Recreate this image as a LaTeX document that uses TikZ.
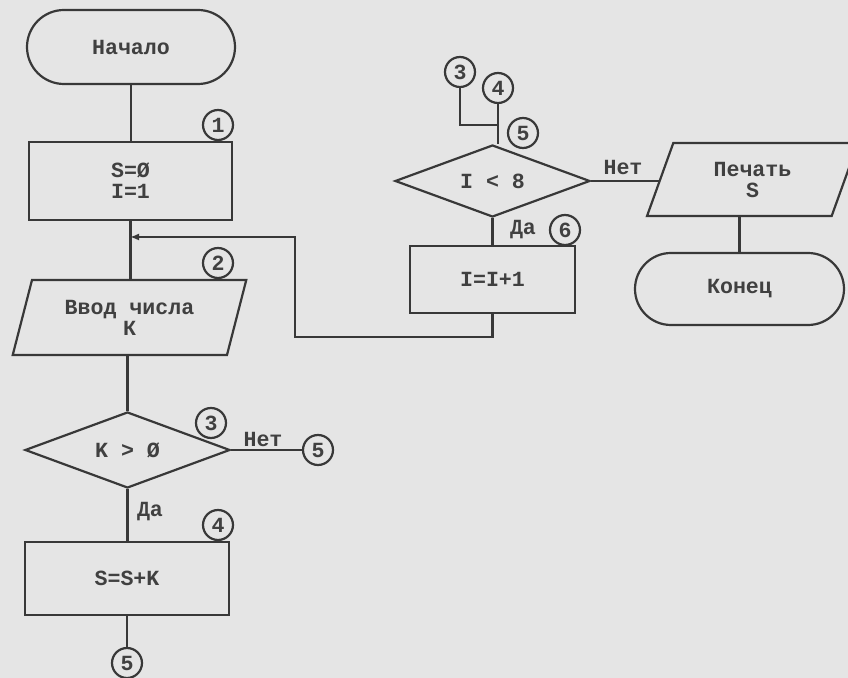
\documentclass[tikz,border=0pt]{standalone}
\usepackage{fontspec}
\setmonofont{Liberation Mono}
\usetikzlibrary{arrows.meta,shapes.geometric,shapes.misc}

\begin{document}
\begin{tikzpicture}[
  x=0.5pt,y=-0.5pt,
  ink/.style={draw=black!78, line width=1.1pt},
  txt/.style={font=\ttfamily\bfseries\fontsize{10.8}{10.5}\selectfont, text=black!75, align=center},
  term/.style={ink, txt, rounded rectangle, inner sep=0pt},
  proc/.style={ink, txt, rectangle, inner sep=0pt},
  io/.style={ink, txt, trapezium, trapezium stretches=true, trapezium left angle=70, trapezium right angle=110, inner sep=0pt},
  cond/.style={ink, txt, diamond, aspect=2.7, inner sep=0pt},
  conn/.style={ink, txt, circle, minimum size=15pt, inner sep=0pt},
  flow/.style={ink},
  back/.style={ink, -{Latex[length=4.5pt,width=3.5pt]}},
  lbl/.style={txt}
]
  \fill[black!10] (0,0) rectangle (848,678);
  \useasboundingbox (0,0) rectangle (848,678);

  % left column
  \node[term, minimum width=104pt, minimum height=37pt] (start) at (131,47) {Начало};
  \node[proc, minimum width=101.5pt, minimum height=39pt] (init) at (130.5,181) {S=Ø\\I=1};
  \node[io, minimum width=117.5pt, minimum height=37.5pt] (input) at (129.5,317.5) {Ввод числа\\К};
  \node[cond, minimum width=102.5pt, minimum height=38pt] (check) at (127.5,450) {K > Ø};
  \node[proc, minimum width=102pt, minimum height=36.5pt] (add) at (127,578.5) {S=S+K};

  \node[conn] (c1) at (218,125) {1};
  \node[conn] (c2) at (218,263) {2};
  \node[conn] (c3) at (211,423) {3};
  \node[conn] (c4) at (218,525) {4};
  \node[conn] (c5a) at (318,450) {5};
  \node[conn] (c5b) at (127,663) {5};

  \node[lbl] (no1) at (263,439) {Нет};
  \node[lbl] (yes1) at (150,512) {Да};

  \draw[flow] (start.south) -- (start.south |- init.north);
  \draw[flow] (init.south) -- (init.south |- input.north);
  \draw[flow] (check.north |- input.south) -- (check.north);
  \draw[flow] (check.south) -- (check.south |- add.north);
  \draw[flow] (check.east) -- (c5a);
  \draw[flow] (add.south) -- (c5b);

  % loop part
  \node[conn] (c3r) at (460,72) {3};
  \node[conn] (c4r) at (498,88) {4};
  \node[conn] (c5r) at (523,133) {5};
  \node[cond, minimum width=97.5pt, minimum height=36pt] (test) at (492.5,181) {I < 8};
  \node[proc, minimum width=82.5pt, minimum height=33.5pt] (inc) at (492.5,279.5) {I=I+1};
  \node[conn] (c6) at (565,230) {6};

  \node[lbl] (no2) at (623,167) {Нет};
  \node[lbl] (yes2) at (523,230) {Да};

  \coordinate (merge) at (498,125);
  \coordinate (turn) at (295,337);
  \coordinate (join) at (130,237);

  \draw[flow] (c3r) |- (merge);
  \draw[flow] (c4r) -- (c4r |- test.north);
  \draw[flow] (test.south) -- (test.south |- inc.north);
  \draw[back] (inc.south) |- (turn) |- (join);

  % output
  \node[io, minimum width=105.5pt, minimum height=36.5pt] (print) at (752.5,179.5) {Печать\\S};
  \node[term, minimum width=104.5pt, minimum height=36pt] (stop) at (739.5,289) {Конец};

  \draw[flow] (test.east) -- (test.east -| print.west);
  \draw[flow] (stop.north |- print.south) -- (stop.north);
\end{tikzpicture}
\end{document}
